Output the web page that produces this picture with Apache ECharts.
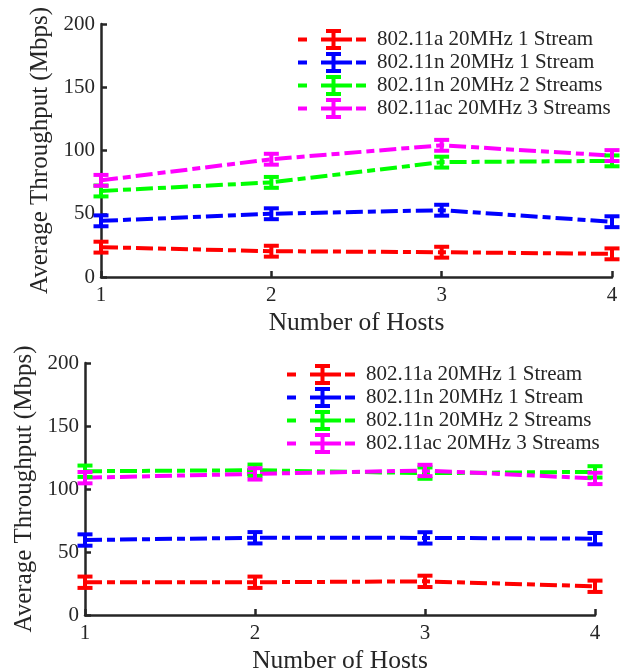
<!DOCTYPE html>
<html>
<head>
<meta charset="utf-8">
<script src="https://cdn.jsdelivr.net/npm/echarts@6/dist/echarts.min.js"></script>
<style>
  html, body { margin: 0; padding: 0; background: #fff; }
  #chart { width: 627px; height: 670px; }
</style>
</head>
<body>
<div id="chart"></div>
<script>
// Hosts on the x axis
const hosts = [1, 2, 3, 4];
const seriesNames = [
  '802.11a 20MHz 1 Stream',
  '802.11n 20MHz 1 Stream',
  '802.11n 20MHz 2 Streams',
  '802.11ac 20MHz 3 Streams'
];
const colors = ['#ff0000', '#0000ff', '#00ff00', '#ff00ff'];

// Upper plot: mean throughput (Mbps) and half-width of the error bar
const topA1 = [23.6, 20.4, 19.6, 18.3];
const topN1 = [44.4, 50.0, 52.8, 43.7];
const topN2 = [68.0, 74.8, 90.8, 91.8];
const topAC3 = [76.4, 93.1, 104.1, 96.0];
const topErr = [4.3, 4.3, 4.3, 4.3];

// Lower plot
const botA1 = [26.0, 26.0, 26.7, 22.8];
const botN1 = [59.5, 61.3, 61.2, 60.6];
const botN2 = [114.1, 114.9, 112.6, 113.6];
const botAC3 = [109.0, 112.0, 114.7, 108.4];
const botErr = [4.5, 4.5, 4.5, 4.5];

const yTicks = { min: 0, max: 200, interval: 50 };

const FONT = 'Liberation Serif';
const INK = '#262626';
const DASH = [17, 5, 8, 5];

// Legend glyph: dash-dot line with an I-shaped error bar in the middle
const legendIcon = 'path://M0 8.5h9v4h-9z M23 8.5h31v4h-31z M58 8.5h10v4h-10z ' +
  'M28 0h15v4h-5.5v13h5.5v4h-15v-4h5.5v-13h-5.5z';

function renderErrorBar(params, api) {
  const x = api.value(0);
  const lo = api.coord([x, api.value(2)]);
  const hi = api.coord([x, api.value(3)]);
  const color = api.visual('color');
  const capW = 15, th = 4;
  return {
    type: 'group',
    children: [
      { type: 'rect', shape: { x: hi[0] - 2, y: hi[1], width: 4, height: lo[1] - hi[1] }, style: { fill: color } },
      { type: 'rect', shape: { x: hi[0] - capW / 2, y: hi[1] - th / 2, width: capW, height: th }, style: { fill: color } },
      { type: 'rect', shape: { x: lo[0] - capW / 2, y: lo[1] - th / 2, width: capW, height: th }, style: { fill: color } }
    ]
  };
}

function buildSeries(axisIdx, values, errs) {
  const out = [];
  values.forEach((vals, i) => {
    out.push({
      type: 'custom',
      name: seriesNames[i],
      xAxisIndex: axisIdx,
      yAxisIndex: axisIdx,
      renderItem: renderErrorBar,
      itemStyle: { color: colors[i] },
      encode: { x: 0, y: 1 },
      data: hosts.map((h, k) => [h, vals[k], vals[k] - errs[k], vals[k] + errs[k]]),
      z: 3,
      silent: true
    });
  });
  values.forEach((vals, i) => {
    out.push({
      type: 'line',
      name: seriesNames[i],
      xAxisIndex: axisIdx,
      yAxisIndex: axisIdx,
      showSymbol: false,
      symbol: 'none',
      color: colors[i],
      lineStyle: { color: colors[i], width: 4, type: DASH, cap: 'butt' },
      data: hosts.map((h, k) => [h, vals[k]]),
      z: 2,
      silent: true,
      animation: false
    });
  });
  return out;
}

function xAxisCfg(gridIndex) {
  return {
    type: 'value', gridIndex, min: 1, max: 4, interval: 1,
    name: 'Number of Hosts', nameLocation: 'middle', nameGap: 33,
    nameTextStyle: { fontFamily: FONT, fontSize: 25.5, color: INK },
    axisLine: { show: true, lineStyle: { color: INK, width: 2.5 } },
    axisTick: { show: true, inside: true, length: 6, lineStyle: { color: INK, width: 2.5 } },
    axisLabel: { fontFamily: FONT, fontSize: 21, color: INK, margin: 8 },
    splitLine: { show: false }
  };
}

function yAxisCfg(gridIndex) {
  return {
    type: 'value', gridIndex, min: yTicks.min, max: yTicks.max, interval: yTicks.interval,
    name: 'Average Throughput (Mbps)', nameLocation: 'middle', nameGap: 41,
    nameTextStyle: { fontFamily: FONT, fontSize: 25, color: INK },
    axisLine: { show: true, lineStyle: { color: INK, width: 2.5 } },
    axisTick: { show: true, inside: true, length: 6, lineStyle: { color: INK, width: 2.5 } },
    axisLabel: { fontFamily: FONT, fontSize: 21, color: INK, margin: 6 },
    splitLine: { show: false }
  };
}

function legendCfg(left, top) {
  return {
    orient: 'vertical', left, top, padding: 0,
    itemWidth: 68, itemHeight: 21, itemGap: 2,
    icon: legendIcon,
    itemStyle: { borderWidth: 0 },
    textStyle: { fontFamily: FONT, fontSize: 21, color: INK, padding: [0, 0, 0, 6] },
    data: seriesNames,
    selectedMode: false
  };
}

const chart = echarts.init(document.getElementById('chart'), null, { renderer: 'canvas' });
chart.setOption({
  animation: false,
  backgroundColor: '#ffffff',
  textStyle: { fontFamily: FONT, color: INK },
  grid: [
    { left: 101, top: 24, width: 511, height: 253, outerBoundsMode: 'none' },
    { left: 85, top: 363, width: 510, height: 252, outerBoundsMode: 'none' }
  ],
  xAxis: [xAxisCfg(0), xAxisCfg(1)],
  yAxis: [yAxisCfg(0), yAxisCfg(1)],
  legend: [legendCfg(298, 29), legendCfg(287, 364)],
  series: [
    ...buildSeries(0, [topA1, topN1, topN2, topAC3], topErr),
    ...buildSeries(1, [botA1, botN1, botN2, botAC3], botErr)
  ]
});
</script>
</body>
</html>
